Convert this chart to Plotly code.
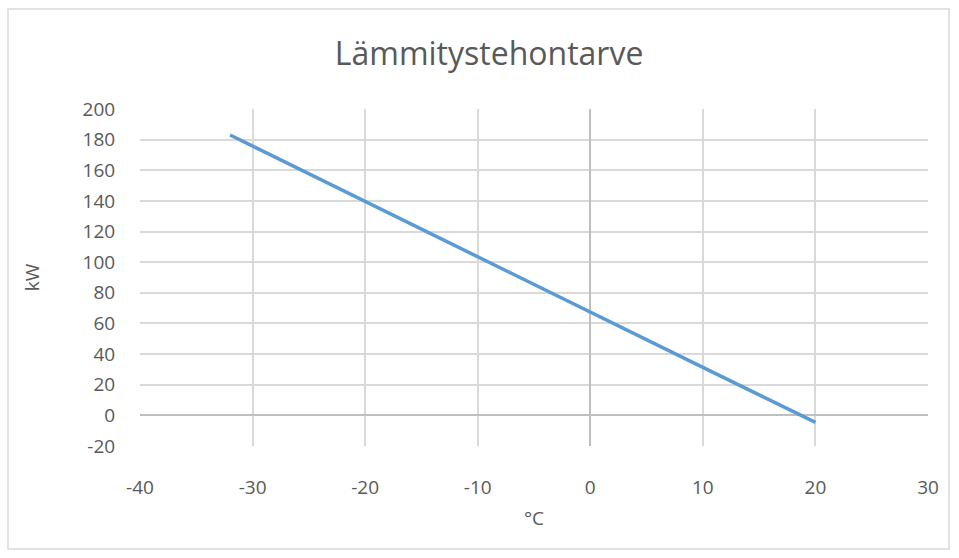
import plotly.graph_objects as go

# Outdoor temperature (°C) and heating power demand (kW)
temps = [-32, -20, -10, 0, 10, 20]
power = [183, 139.5, 103.5, 67.3, 31.3, -4.6]

x_ticks = [-40, -30, -20, -10, 0, 10, 20, 30]
y_ticks = [-20, 0, 20, 40, 60, 80, 100, 120, 140, 160, 180, 200]
x_labels = [str(v) for v in x_ticks]
y_labels = [str(v) for v in y_ticks]

FONT = "Open Sans, Liberation Sans, sans-serif"
TXT = "#595959"
GRID = "#d9d9d9"

fig = go.Figure()
fig.add_trace(go.Scatter(
    x=temps, y=power, mode="lines",
    line=dict(color="#5b9bd5", width=3.5),
    showlegend=False, hoverinfo="skip",
))

L, R, T, B = 140, 31, 109, 112
W, H = 959, 558
pw, ph = W - L - R, H - T - B

fig.update_layout(
    width=W, height=H,
    margin=dict(l=L, r=R, t=T, b=B),
    paper_bgcolor="white", plot_bgcolor="white",
    font=dict(family=FONT, color=TXT, size=19),
    title=dict(text="Lämmitystehontarve", x=0.51, xanchor="center",
               y=1 - 54 / H, yanchor="middle",
               font=dict(size=32, color=TXT, family=FONT)),
    xaxis=dict(
        range=[-40, 30], tickvals=x_ticks, ticktext=x_labels,
        showgrid=True, gridcolor=GRID,
        gridwidth=1.5, zeroline=True, zerolinecolor="#bfbfbf", zerolinewidth=1.5,
        showline=False, ticks="outside", ticklen=24, tickcolor="rgba(0,0,0,0)",
        tickfont=dict(size=19, color=TXT),
        title=dict(text="°C", font=dict(size=19, color=TXT), standoff=12),
    ),
    yaxis=dict(
        range=[-20, 200], tickvals=y_ticks, ticktext=y_labels,
        showgrid=True, gridcolor=GRID,
        gridwidth=1.5, zeroline=True, zerolinecolor="#bfbfbf", zerolinewidth=1.5,
        showline=False, ticks="outside", ticklen=20, tickcolor="rgba(0,0,0,0)",
        tickfont=dict(size=19, color=TXT),
        title=dict(text="kW", font=dict(size=19, color=TXT), standoff=37),
    ),
    shapes=[dict(
        type="rect", xref="paper", yref="paper",
        x0=(8 - L) / pw, x1=(949 - L) / pw,
        y0=(T + ph - 549) / ph, y1=(T + ph - 9) / ph,
        line=dict(color=GRID, width=1.5), fillcolor="rgba(0,0,0,0)", layer="below",
    )],
)

fig.write_html("out.html")
